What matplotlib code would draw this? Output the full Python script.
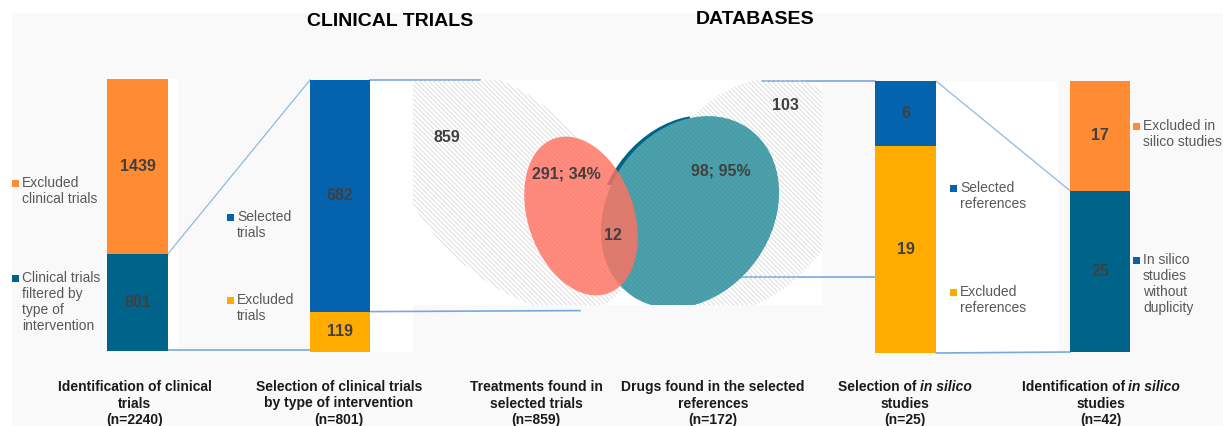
import matplotlib.pyplot as plt
from matplotlib.patches import Rectangle, Ellipse

plt.rcParams["font.family"] = ["Liberation Sans", "DejaVu Sans"]
plt.rcParams["hatch.linewidth"] = 0.5

# ---- data ----
id_labels = ["Clinical trials\nfiltered by\ntype of\nintervention", "Excluded\nclinical trials"]
id_counts = [801, 1439]
trial_labels = ["Excluded\ntrials", "Selected\ntrials"]
trial_counts = [119, 682]
ref_labels = ["Excluded\nreferences", "Selected\nreferences"]
ref_counts = [19, 6]
silico_labels = ["In silico\nstudies\nwithout\nduplicity", "Excluded in\nsilico studies"]
silico_counts = [25, 17]

treatments_total = 859
treatments_label = "291; 34%"
shared_drugs = 12
drugs_label = "98; 95%"
drugs_other = 103
drugs_total = 172

# ---- style / layout (pixel units, origin top-left) ----
W, H = 1223, 426
C_ORANGE = "#FF8C33"
C_TEAL = "#00648A"
C_BLUE = "#0563AE"
C_AMBER = "#FFAB00"
C_LINE = "#8FB8E3"
C_LBL = "#404040"
C_LEG = "#595959"

fig = plt.figure(figsize=(W / 100, H / 100), dpi=100)
bg = fig.add_axes([0, 0, 1, 1])
bg.set_xlim(0, W)
bg.set_ylim(H, 0)
bg.axis("off")

bg.add_patch(Rectangle((12, 13), W - 12, H - 13, color="#f9f9f9", lw=0, zorder=0))
for x0, y0, x1, y1 in [(168, 79, 178, 351), (367, 80, 413, 352), (936, 81, 1058, 353)]:
    bg.add_patch(Rectangle((x0, y0), x1 - x0, y1 - y0, color="white", lw=0, zorder=0.5))
venn_box = Rectangle((413, 80), 409, 225, color="white", lw=0, zorder=0.5)
bg.add_patch(venn_box)


def stacked_bar(rect, counts, colors):
    """One stacked column filling its own axes; rect = (x, y_top, w, h) in px."""
    x, y, w, h = rect
    ax = fig.add_axes([x / W, (H - y - h) / H, w / W, h / H])
    total = sum(counts)
    bottom = 0
    for v, c in zip(counts, colors):
        ax.bar(0, v, width=1, bottom=bottom, color=c, lw=0)
        ax.text(0, bottom + v / 2, str(v), ha="center", va="center",
                fontsize=11.5, fontweight="bold", color=C_LBL)
        bottom += v
    ax.set_xlim(-0.5, 0.5)
    ax.set_ylim(0, total)
    ax.axis("off")
    # pixel y of each segment boundary (bottom -> top)
    ys, cum = [y + h], 0
    for v in counts:
        cum += v
        ys.append(y + h * (1 - cum / total))
    return ys


def legend_item(x, y, label, color):
    bg.add_patch(Rectangle((x - 3, y - 3), 6.5, 6.5, color=color, lw=0, zorder=3))
    for i, line in enumerate(label.split("\n")):
        bg.text(x + 7, y + 16 * i, line, ha="left", va="center",
                fontsize=10, color=C_LEG, zorder=3)


b1 = stacked_bar((107, 79, 61, 272), id_counts, [C_TEAL, C_ORANGE])
b2 = stacked_bar((310, 80, 60, 272), trial_counts, [C_AMBER, C_BLUE])
b3 = stacked_bar((875, 81, 61, 272), ref_counts, [C_AMBER, C_BLUE])
b4 = stacked_bar((1070, 81, 60, 271), silico_counts, [C_TEAL, C_ORANGE])

legend_item(15, 183, id_labels[1], C_ORANGE)
legend_item(15, 278, id_labels[0], C_TEAL)
legend_item(230, 217, trial_labels[1], C_BLUE)
legend_item(230, 300, trial_labels[0], C_AMBER)
legend_item(953, 188, ref_labels[1], C_BLUE)
legend_item(953, 292, ref_labels[0], C_AMBER)
legend_item(1136, 126, silico_labels[1], C_ORANGE)
legend_item(1136, 260, silico_labels[0], C_BLUE)

# connector lines
diag = dict(color=C_LINE, lw=0.9, zorder=1)
flat = dict(color="#79A9DC", lw=1.2, zorder=1)
bg.plot([168, 310], [b1[1], b2[2]], **diag)
bg.plot([168, 310], [b1[0] - 1, b2[0] - 2], **flat)
bg.plot([370, 480], [b2[2], b2[2]], **flat)
bg.plot([370, 580], [b2[1], b2[1] - 1], **flat)
bg.plot([762, 875], [b3[2], b3[2]], **flat)
bg.plot([737, 875], [277, 277], **flat)
bg.plot([936, 1070], [b3[2], b4[1]], **diag)
bg.plot([936, 1070], [b3[0], b4[0]], **flat)

# Venn diagram
hatch = "\\" * 7
sliver_box = Rectangle((600, 80), 90, 105, fc="none", lw=0)
bg.add_patch(sliver_box)
venn = [
    dict(xy=(510, 190), width=300, height=172, angle=45, fc="none", ec="#d2d2d2", hatch=hatch),
    dict(xy=(747, 195), width=258, height=186, angle=-55, fc="none", ec="#d2d2d2", hatch=hatch),
    dict(xy=(686, 211), width=204, height=164, angle=-55, fc=C_TEAL, ec="none"),
    dict(xy=(690, 212), width=204, height=164, angle=-55, fc="#4CA1AC", ec="#42979F", hatch=hatch),
    dict(xy=(581, 216), width=164, height=106, angle=71, fc="#FF7261", ec="none", alpha=0.82),
]
for i, kw in enumerate(venn):
    e = Ellipse(lw=0, zorder=2 + i * 0.1, **kw)
    bg.add_patch(e)
    e.set_clip_path(sliver_box if i == 2 else venn_box)

venn_text = dict(fontsize=11.5, fontweight="bold", color=C_LBL, ha="center", va="center", zorder=4)
bg.text(447, 137, str(treatments_total), **venn_text)
bg.text(566, 174, treatments_label, **venn_text)
bg.text(613, 235, str(shared_drugs), **venn_text)
bg.text(721, 171, drugs_label, **venn_text)
bg.text(785, 105, str(drugs_other), **venn_text)

# section titles
bg.text(390, 22, "CLINICAL TRIALS", ha="center", va="center", fontsize=14, fontweight="bold", color="black")
bg.text(755, 20, "DATABASES", ha="center", va="center", fontsize=14, fontweight="bold", color="black")

# stage captions
renderer = fig.canvas.get_renderer()
cap_font = dict(fontsize=10, fontweight="bold", color="#1a1a1a",
                family=["Liberation Sans Narrow", "Liberation Sans"])


def rich_line(xc, y, parts):
    texts = [bg.text(0, y, s, ha="left", va="center", style=st, **cap_font) for s, st in parts]
    widths = [t.get_window_extent(renderer).width for t in texts]
    gap = 3
    x = xc - (sum(widths) + gap * (len(parts) - 1)) / 2
    for t, w in zip(texts, widths):
        t.set_x(x)
        x += w + gap


N = "normal"
captions = [
    (135, [[("Identification of clinical", N)], [("trials", N)], [(f"(n={sum(id_counts)})", N)]]),
    (339, [[("Selection of clinical trials", N)], [("by type of intervention", N)],
           [(f"(n={sum(trial_counts)})", N)]]),
    (536, [[("Treatments found in", N)], [("selected trials", N)], [(f"(n={treatments_total})", N)]]),
    (713, [[("Drugs found in the selected", N)], [("references", N)], [(f"(n={drugs_total})", N)]]),
    (905, [[("Selection of", N), ("in silico", "italic")], [("studies", N)],
           [(f"(n={sum(ref_counts)})", N)]]),
    (1101, [[("Identification of", N), ("in silico", "italic")], [("studies", N)],
            [(f"(n={sum(silico_counts)})", N)]]),
]
for xc, lines in captions:
    for i, parts in enumerate(lines):
        rich_line(xc, 387 + 16.5 * i, parts)

fig.savefig("out.png", dpi=100)
